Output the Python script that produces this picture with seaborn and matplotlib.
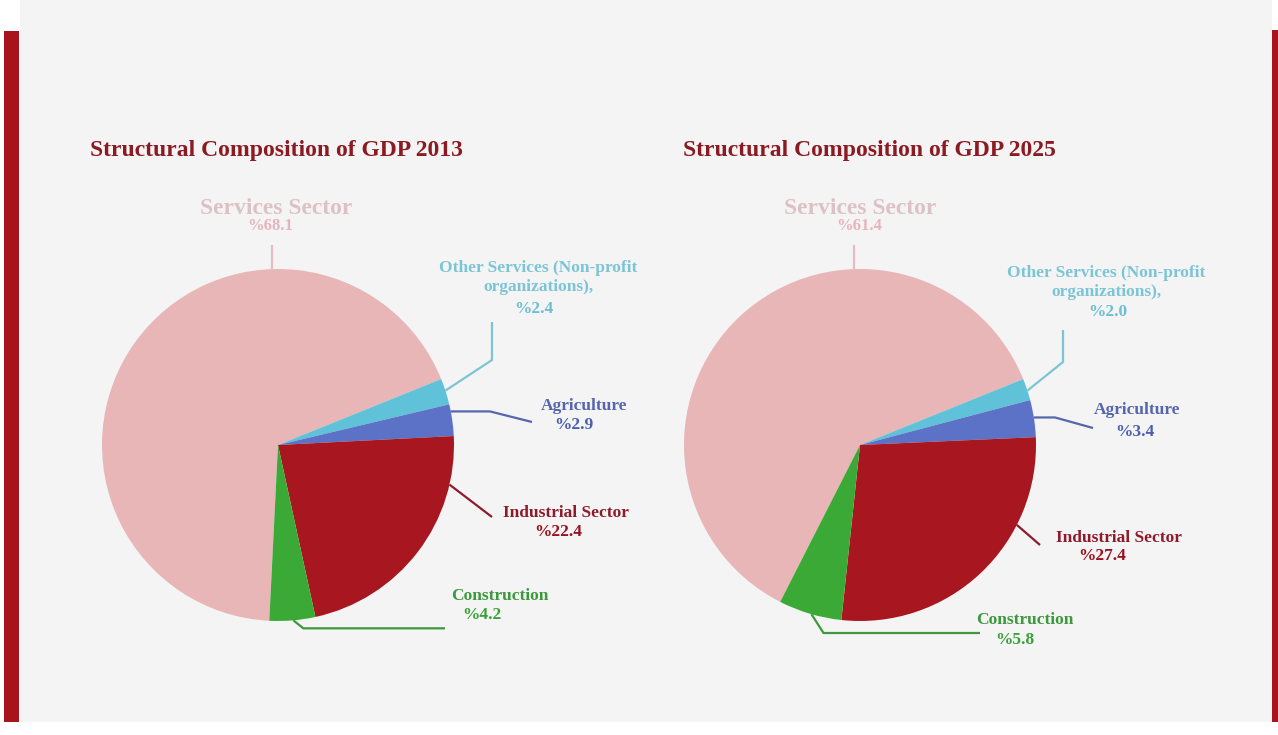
import numpy as np
import matplotlib
matplotlib.use("Agg")
import matplotlib.pyplot as plt
from matplotlib.patches import Rectangle
import seaborn as sns

# ---------------- data ----------------
sectors = ["Services Sector", "Other Services (Non-profit\norganizations),",
           "Agriculture", "Industrial Sector", "Construction"]
share_2013 = [68.1, 2.4, 2.9, 22.4, 4.2]
share_2025 = [61.4, 2.0, 3.4, 27.4, 5.8]
years = ["2013", "2025"]
titles = ["Structural Composition of GDP 2013", "Structural Composition of GDP 2025"]

# ---------------- style ----------------
sns.set_theme(style="white")
plt.rcParams["font.family"] = ["Liberation Serif", "DejaVu Serif"]

slice_colors = sns.color_palette(["#e8b6b6", "#5fc2d9", "#5b72c6", "#a8161f", "#3ba935"])
name_colors = ["#dcc2c6", "#7cc5d6", "#5566ad", "#8e1b2b", "#3c993c"]
value_colors = ["#e6b4bc", "#6cbfd3", "#4b5fb0", "#98121f", "#3aa03a"]
line_colors = ["#e6bcc2", "#7cc5d6", "#5566ad", "#8e1b2b", "#3c993c"]

W, H = 1278, 735
Y = lambda y: H - y  # pixel row -> data y

fig = plt.figure(figsize=(W / 100, H / 100), dpi=100)
fig.patch.set_facecolor("white")
ax = fig.add_axes([0, 0, 1, 1])

# background panel and red side bars
ax.add_patch(Rectangle((20, Y(722)), 1252, 722, facecolor="#f4f4f4", edgecolor="none", zorder=0))
ax.add_patch(Rectangle((4, Y(722)), 15, 691, facecolor="#a8141c", edgecolor="none", zorder=1))
ax.add_patch(Rectangle((1272, Y(722)), 6, 692, facecolor="#a8141c", edgecolor="none", zorder=1))

R = 176
layouts = [
    dict(center=(278, 445), title_x=90,
         name_pos=[(276, 208), (538, 277), (584, 406), (566, 513), (500, 596)],
         value_pos=[(270, 226), (534, 309), (574, 425), (558, 532), (482, 615)],
         angles=[92, 18, 11, -13, -85],
         paths=[lambda a: [(a[0], 245)],
                lambda a: [(492, 360), (492, 322)],
                lambda a: [(490, a[1]), (532, 422)],
                lambda a: [(492, 517)],
                lambda a: [(a[0] + 10, a[1] + 8), (445, a[1] + 8)]]),
    dict(center=(860, 445), title_x=683,
         name_pos=[(860, 208), (1106, 282), (1137, 410), (1119, 538), (1025, 620)],
         value_pos=[(859, 226), (1108, 312), (1135, 432), (1102, 556), (1015, 640)],
         angles=[92, 18, 9, -27, -106],
         paths=[lambda a: [(a[0], 245)],
                lambda a: [(1063, 362), (1063, 330)],
                lambda a: [(1055, a[1]), (1093, 428)],
                lambda a: [(1040, 545)],
                lambda a: [(a[0] + 12, 633), (980, 633)]]),
]

for values, title, lay in zip([share_2013, share_2025], titles, layouts):
    cx, cy = lay["center"]
    ax.pie(values, colors=slice_colors, startangle=22 + 3.6 * values[0],
           counterclock=False, center=(cx, Y(cy)), radius=R,
           wedgeprops=dict(linewidth=0), frame=True)
    ax.text(lay["title_x"], Y(150), title, fontsize=17, fontweight="bold",
            color="#8b1a22", ha="left", va="center")
    for i, (name, v) in enumerate(zip(sectors, values)):
        ang = np.deg2rad(lay["angles"][i])
        anchor = (cx + R * np.cos(ang), cy - R * np.sin(ang))
        pts = [anchor] + lay["paths"][i](anchor)
        xs = [p[0] for p in pts]
        ys = [Y(p[1]) for p in pts]
        ax.plot(xs, ys, color=line_colors[i], lw=1.6, solid_capstyle="butt", zorder=3)
        fs = 17 if i == 0 else 12.5
        nx, ny = lay["name_pos"][i]
        ax.text(nx, Y(ny), name, fontsize=fs, fontweight="bold", color=name_colors[i],
                ha="center", va="center", linespacing=1.25)
        vx, vy = lay["value_pos"][i]
        ax.text(vx, Y(vy), f"%{v}", fontsize=12.5 if i else 12, fontweight="bold",
                color=value_colors[i], ha="center", va="center")

ax.set_xlim(0, W)
ax.set_ylim(0, H)
ax.set_aspect("equal")
ax.axis("off")
fig.savefig("out.png", dpi=100, facecolor=fig.get_facecolor())
